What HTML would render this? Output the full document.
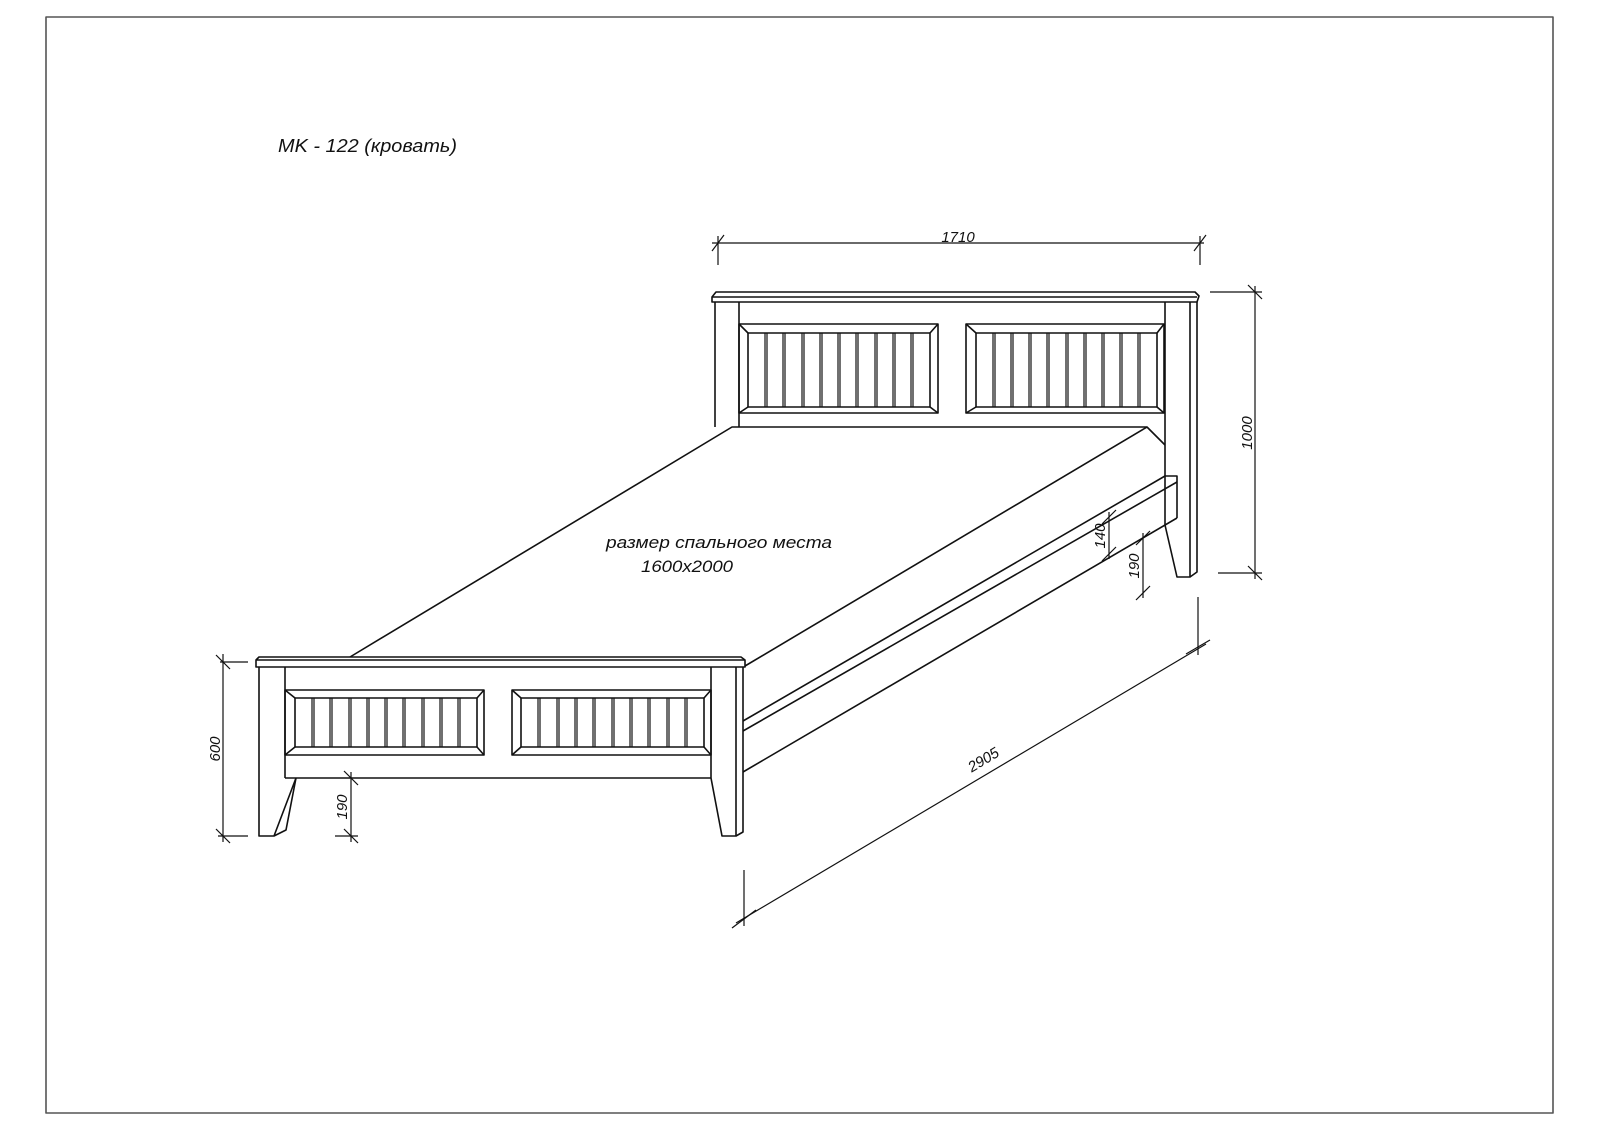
<!DOCTYPE html>
<html><head><meta charset="utf-8"><style>
html,body{margin:0;padding:0;background:#fff;}
svg{display:block;}
text{font-family:"Liberation Sans",sans-serif;font-style:italic;fill:#111;}
</style></head><body>
<svg width="1600" height="1130" viewBox="0 0 1600 1130" xmlns="http://www.w3.org/2000/svg">
<g fill="none" stroke="#111" stroke-width="1.6" stroke-linejoin="round">
<rect x="46" y="17" width="1507" height="1096" stroke="#555" stroke-width="1.6"/>

<!-- HEADBOARD -->
<polygon points="712,297 716,292 1195,292 1199,296 1197,302 712,302" fill="#fff"/>
<line x1="712" y1="297" x2="1197" y2="297"/>
<polyline points="715,302 715,427"/>
<line x1="739" y1="302" x2="739" y2="427"/>
<polyline points="1165,302 1165,525 1177,577 1190,577 1190,302"/>
<polyline points="1190,577 1197,572 1197,302"/>
<!-- head panels -->
<rect x="739" y="324" width="199" height="89"/>
<rect x="748" y="333" width="182" height="74"/>
<line x1="739" y1="324" x2="748" y2="333"/><line x1="938" y1="324" x2="930" y2="333"/>
<line x1="739" y1="413" x2="748" y2="407"/><line x1="938" y1="413" x2="930" y2="407"/>
<rect x="966" y="324" width="198" height="89"/>
<rect x="976" y="333" width="181" height="74"/>
<line x1="966" y1="324" x2="976" y2="333"/><line x1="1164" y1="324" x2="1157" y2="333"/>
<line x1="966" y1="413" x2="976" y2="407"/><line x1="1164" y1="413" x2="1157" y2="407"/>
<g stroke-width="1.2">
<path d="M765,333V407M767,333V407M783,333V407M785,333V407M802,333V407M804,333V407M820,333V407M822,333V407M838,333V407M840,333V407M856,333V407M858,333V407M875,333V407M877,333V407M893,333V407M895,333V407M911,333V407M913,333V407"/>
<path d="M993,333V407M995,333V407M1011,333V407M1013,333V407M1029,333V407M1031,333V407M1047,333V407M1049,333V407M1066,333V407M1068,333V407M1084,333V407M1086,333V407M1102,333V407M1104,333V407M1120,333V407M1122,333V407M1138,333V407M1140,333V407"/>
</g>

<!-- MATTRESS -->
<polyline points="350,657 732,427 1147,427 1165,445"/>
<line x1="1147" y1="427" x2="745" y2="666"/>

<!-- SIDE RAIL -->
<polyline points="1165,476 1177,476 1177,518"/>
<line x1="1165" y1="476" x2="743" y2="721"/>
<line x1="1177" y1="482" x2="743" y2="731"/>
<line x1="1177" y1="518" x2="743" y2="772"/>

<!-- FOOTBOARD -->
<polygon points="256,660 259,657 741,657 745,660 745,667 256,667" fill="#fff"/>
<line x1="256" y1="660" x2="745" y2="660"/>
<polyline points="259,667 259,836 274,836 296,778"/>
<polyline points="274,836 286,830 296,778"/>
<line x1="285" y1="667" x2="285" y2="778"/>
<line x1="285" y1="778" x2="711" y2="778"/>
<polyline points="711,667 711,778 722,836 736,836 736,667"/>
<polyline points="736,836 743,832 743,667"/>
<rect x="285" y="690" width="199" height="65"/>
<rect x="295" y="698" width="182" height="49"/>
<line x1="285" y1="690" x2="295" y2="698"/><line x1="484" y1="690" x2="477" y2="698"/>
<line x1="285" y1="755" x2="295" y2="747"/><line x1="484" y1="755" x2="477" y2="747"/>
<rect x="512" y="690" width="199" height="65"/>
<rect x="521" y="698" width="183" height="49"/>
<line x1="512" y1="690" x2="521" y2="698"/><line x1="711" y1="690" x2="704" y2="698"/>
<line x1="512" y1="755" x2="521" y2="747"/><line x1="711" y1="755" x2="704" y2="747"/>
<g stroke-width="1.2">
<path d="M312,698V747M314,698V747M330,698V747M332,698V747M349,698V747M351,698V747M367,698V747M369,698V747M385,698V747M387,698V747M403,698V747M405,698V747M422,698V747M424,698V747M440,698V747M442,698V747M458,698V747M460,698V747"/>
<path d="M538,698V747M540,698V747M557,698V747M559,698V747M575,698V747M577,698V747M593,698V747M595,698V747M612,698V747M614,698V747M630,698V747M632,698V747M648,698V747M650,698V747M667,698V747M669,698V747M685,698V747M687,698V747"/>
</g>

<!-- DIMENSIONS -->
<g stroke-width="1.2">
<line x1="712" y1="243" x2="1204" y2="243"/>
<line x1="718" y1="236" x2="718" y2="265"/><line x1="1200" y1="236" x2="1200" y2="265"/>
<line x1="712" y1="251" x2="724" y2="235"/><line x1="1194" y1="251" x2="1206" y2="235"/>
<line x1="1255" y1="286" x2="1255" y2="579"/>
<line x1="1210" y1="292" x2="1262" y2="292"/><line x1="1218" y1="573" x2="1262" y2="573"/>
<line x1="1248" y1="285" x2="1262" y2="299"/><line x1="1248" y1="566" x2="1262" y2="580"/>
<line x1="1109" y1="512" x2="1109" y2="559"/>
<line x1="1102" y1="524" x2="1116" y2="510"/><line x1="1102" y1="561" x2="1116" y2="547"/>
<line x1="1143" y1="533" x2="1143" y2="598"/>
<line x1="1136" y1="545" x2="1150" y2="531"/><line x1="1136" y1="600" x2="1150" y2="586"/>
<line x1="223" y1="654" x2="223" y2="842"/>
<line x1="220" y1="662" x2="248" y2="662"/><line x1="218" y1="836" x2="248" y2="836"/>
<line x1="216" y1="655" x2="230" y2="669"/><line x1="216" y1="829" x2="230" y2="843"/>
<line x1="351" y1="772" x2="351" y2="842"/>
<line x1="335" y1="836" x2="358" y2="836"/>
<line x1="344" y1="771" x2="358" y2="785"/><line x1="344" y1="829" x2="358" y2="843"/>
<line x1="736" y1="923" x2="1206" y2="644"/>
<line x1="744" y1="870" x2="744" y2="926"/><line x1="1198" y1="597" x2="1198" y2="655"/>
<line x1="732" y1="928" x2="756" y2="910"/><line x1="1186" y1="654" x2="1210" y2="640"/>
</g>
</g>

<text x="278" y="152" font-size="18" textLength="179" lengthAdjust="spacingAndGlyphs">MK - 122 (кровать)</text>
<text x="958" y="242" font-size="15" text-anchor="middle">1710</text>
<text x="606" y="548" font-size="17" textLength="226" lengthAdjust="spacingAndGlyphs">размер спального места</text>
<text x="641" y="572" font-size="17" textLength="92" lengthAdjust="spacingAndGlyphs">1600x2000</text>
<text transform="translate(1252,433) rotate(-90)" font-size="15" text-anchor="middle">1000</text>
<text transform="translate(1105,536) rotate(-90)" font-size="15" text-anchor="middle">140</text>
<text transform="translate(1139,566) rotate(-90)" font-size="15" text-anchor="middle">190</text>
<text transform="translate(220,749) rotate(-90)" font-size="15" text-anchor="middle">600</text>
<text transform="translate(347,807) rotate(-90)" font-size="15" text-anchor="middle">190</text>
<text transform="translate(986,764) rotate(-31)" font-size="15" text-anchor="middle">2905</text>
</svg>
</body></html>
